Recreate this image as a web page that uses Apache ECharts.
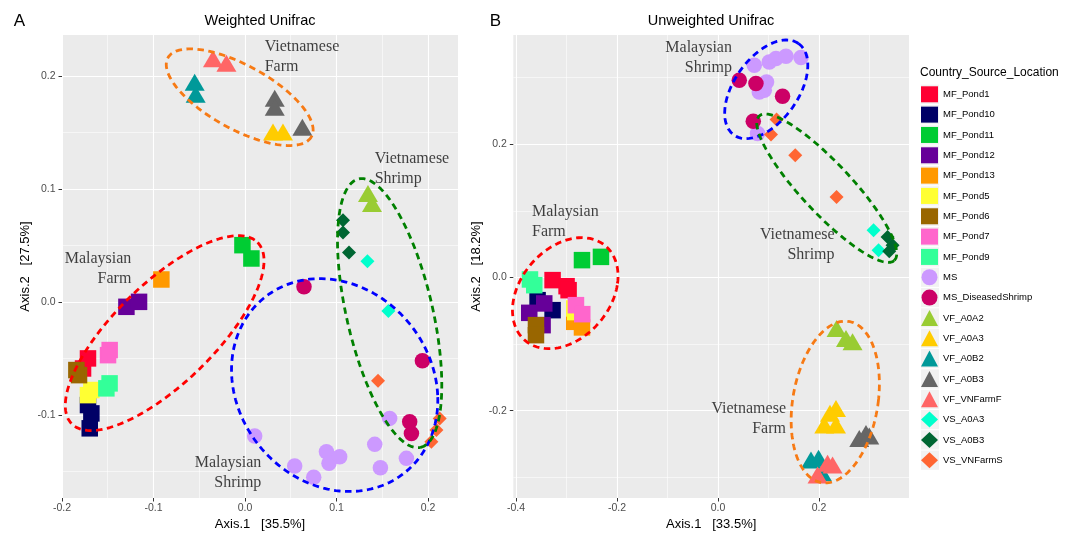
<!DOCTYPE html>
<html><head><meta charset="utf-8">
<script src="https://cdn.jsdelivr.net/npm/echarts@6/dist/echarts.min.js"></script>
<style>html,body{margin:0;padding:0;background:#fff}#c{width:1073px;height:533px}</style>
</head><body><div id="c"></div>
<script>
// ---------- groups ----------
const groups = ['MF_Pond1','MF_Pond10','MF_Pond11','MF_Pond12','MF_Pond13','MF_Pond5','MF_Pond6','MF_Pond7','MF_Pond9','MS','MS_DiseasedShrimp','VF_A0A2','VF_A0A3','VF_A0B2','VF_A0B3','VF_VNFarmF','VS_A0A3','VS_A0B3','VS_VNFarmS'];
const groupColors = ['#FF0033','#000066','#00CC33','#660099','#FF9900','#FFFF33','#996600','#FF66CC','#33FF99','#CC99FF','#CC0066','#99CC33','#FFCC00','#009999','#666666','#FF6666','#00FFCC','#006633','#FF6633'];
const groupShapes = ['rect','rect','rect','rect','rect','rect','rect','rect','rect','circle','circle','triangle','triangle','triangle','triangle','triangle','diamond','diamond','diamond'];

// ---------- Panel A: Weighted Unifrac (Axis.1, Axis.2) ----------
const wMF_Pond1  = [[-0.1716,-0.0501],[-0.177,-0.059]];
const wMF_Pond10 = [[-0.1716,-0.0914],[-0.1679,-0.0988],[-0.1697,-0.112]];
const wMF_Pond11 = [[-0.0028,0.0502],[0.007,0.0384]];
const wMF_Pond12 = [[-0.1296,-0.0044],[-0.1158,0.0]];
const wMF_Pond13 = [[-0.0914,0.0198]];
const wMF_Pond5  = [[-0.1679,-0.0781],[-0.1716,-0.0826]];
const wMF_Pond6  = [[-0.1814,-0.0649],[-0.1843,-0.0604]];
const wMF_Pond7  = [[-0.1497,-0.0472],[-0.1479,-0.0427]];
const wMF_Pond9  = [[-0.148,-0.0722],[-0.1515,-0.0766]];
const wMS        = [[0.0106,-0.1188],[0.0543,-0.1454],[0.0751,-0.1554],[0.089,-0.1327],[0.0918,-0.143],[0.1035,-0.1372],[0.1418,-0.1262],[0.148,-0.1469],[0.1764,-0.1386],[0.1581,-0.1032]];
const wMS_DiseasedShrimp = [[0.0645,0.0133],[0.1939,-0.0522],[0.18,-0.1062],[0.1819,-0.1165]];
const wVF_A0A2   = [[0.1344,0.0959],[0.1388,0.0871]];
const wVF_A0A3   = [[0.0306,0.1504],[0.0415,0.1504]];
const wVF_A0B2   = [[-0.055,0.1944],[-0.0539,0.1838]];
const wVF_A0B3   = [[0.0325,0.1803],[0.0325,0.1723],[0.0627,0.1546]];
const wVF_VNFarmF= [[-0.035,0.2153],[-0.0203,0.2112]];
const wVS_A0A3   = [[0.1338,0.036],[0.1567,-0.008]];
const wVS_A0B3   = [[0.1071,0.0723],[0.1071,0.0614],[0.1137,0.0437]];
const wVS_VNFarmS= [[0.1454,-0.0699],[0.2128,-0.1032],[0.2092,-0.1135],[0.2037,-0.1239]];

// ---------- Panel B: Unweighted Unifrac ----------
const uMF_Pond1  = [[-0.3275,-0.004],[-0.2998,-0.0131],[-0.2958,-0.0191]];
const uMF_Pond10 = [[-0.3572,-0.0341],[-0.3275,-0.0491]];
const uMF_Pond11 = [[-0.2693,0.026],[-0.2317,0.0309]];
const uMF_Pond12 = [[-0.3737,-0.0531],[-0.344,-0.039],[-0.3473,-0.0716]];
const uMF_Pond13 = [[-0.2846,-0.0666],[-0.2693,-0.075]];
const uMF_Pond5  = [[-0.2846,-0.0465],[-0.2826,-0.052]];
const uMF_Pond6  = [[-0.3604,-0.0716],[-0.3604,-0.0866]];
const uMF_Pond7  = [[-0.2812,-0.0416],[-0.2687,-0.0551]];
const uMF_Pond9  = [[-0.3723,-0.003],[-0.3638,-0.0116]];
const uMS        = [[0.0719,0.3185],[0.1016,0.3235],[0.1149,0.3286],[0.1347,0.332],[0.1644,0.3301],[0.0962,0.2935],[0.0818,0.2785],[0.0917,0.281],[0.0784,0.2161]];
const uMS_DiseasedShrimp = [[0.0422,0.296],[0.0752,0.2911],[0.1279,0.272],[0.0699,0.2345]];
const uVF_A0A2   = [[0.2349,-0.0765],[0.2535,-0.0915],[0.2665,-0.0966]];
const uVF_A0A3   = [[0.2337,-0.1966],[0.2218,-0.204],[0.2105,-0.2216],[0.2337,-0.2216]];
const uVF_A0B2   = [[0.1842,-0.2741],[0.1992,-0.2716],[0.2059,-0.2932]];
const uVF_A0B3   = [[0.2931,-0.2341],[0.2798,-0.2416],[0.2996,-0.2381]];
const uVF_VNFarmF= [[0.217,-0.2791],[0.2269,-0.2816],[0.1972,-0.2966]];
const uVS_A0A3   = [[0.3081,0.071],[0.318,0.041]];
const uVS_A0B3   = [[0.3358,0.0609],[0.3457,0.0485],[0.3392,0.0395]];
const uVS_VNFarmS= [[0.116,0.2371],[0.105,0.2146],[0.1531,0.1835],[0.2349,0.1209]];

// ---------- ellipses: [cx, cy, ux, uy, vx, vy] (data units) ----------
const ellA_VietFarm     = [-0.0058, 0.1812, 0.0785,-0.0349, -0.0168,-0.0248];
const ellA_MalayFarm    = [-0.0878,-0.0277, 0.1017, 0.0803,  0.0381,-0.0317];
const ellA_MalayShrimp  = [ 0.098, -0.0737, 0.1126,-0.0089, -0.0055, 0.0938];
const ellA_VietShrimp   = [ 0.1581,-0.0100, 0.0339,-0.1189,  0.0458, 0.0086];
const ellB_MalayShrimp  = [ 0.0956, 0.2825, 0.064,  0.0687,  0.0518,-0.0277];
const ellB_VietShrimp   = [ 0.2154, 0.134,  0.1339,-0.1085,  0.0361, 0.0256];
const ellB_MalayFarm    = [-0.3024,-0.0236, 0.103,  0.012,  -0.0178,-0.0825];
const ellB_VietFarm     = [ 0.2323,-0.1871, 0.0851, 0.0,     0.0198, 0.1215];

// ---------- annotations ----------
const annA = [
  ['Vietnamese\nFarm',   0.0215, 0.2166, 'left'],
  ['Vietnamese\nShrimp', 0.1417, 0.118,  'left'],
  ['Malaysian\nFarm',   -0.1242, 0.0296, 'right'],
  ['Malaysian\nShrimp',  0.0179,-0.151,  'right']
];
const annB = [
  ['Malaysian\nShrimp',  0.0277, 0.330,  'right'],
  ['Malaysian\nFarm',   -0.3683, 0.0837, 'left'],
  ['Vietnamese\nShrimp', 0.2309, 0.0485, 'right'],
  ['Vietnamese\nFarm',   0.1347,-0.2126, 'right']
];

// ---------- axes ticks ----------
const ticksAx = [-0.2,-0.1,0,0.1,0.2],  minorAx = [-0.15,-0.05,0.05,0.15];
const ticksAy = [-0.1,0,0.1,0.2],       minorAy = [-0.15,-0.05,0.05,0.15];
const ticksBx = [-0.4,-0.2,0,0.2],      minorBx = [-0.3,-0.1,0.1,0.3];
const ticksBy = [-0.2,0,0.2],           minorBy = [-0.3,-0.1,0.1,0.3];

const weighted = {MF_Pond1:wMF_Pond1,MF_Pond10:wMF_Pond10,MF_Pond11:wMF_Pond11,MF_Pond12:wMF_Pond12,MF_Pond13:wMF_Pond13,MF_Pond5:wMF_Pond5,MF_Pond6:wMF_Pond6,MF_Pond7:wMF_Pond7,MF_Pond9:wMF_Pond9,MS:wMS,MS_DiseasedShrimp:wMS_DiseasedShrimp,VF_A0A2:wVF_A0A2,VF_A0A3:wVF_A0A3,VF_A0B2:wVF_A0B2,VF_A0B3:wVF_A0B3,VF_VNFarmF:wVF_VNFarmF,VS_A0A3:wVS_A0A3,VS_A0B3:wVS_A0B3,VS_VNFarmS:wVS_VNFarmS};
const unweighted = {MF_Pond1:uMF_Pond1,MF_Pond10:uMF_Pond10,MF_Pond11:uMF_Pond11,MF_Pond12:uMF_Pond12,MF_Pond13:uMF_Pond13,MF_Pond5:uMF_Pond5,MF_Pond6:uMF_Pond6,MF_Pond7:uMF_Pond7,MF_Pond9:uMF_Pond9,MS:uMS,MS_DiseasedShrimp:uMS_DiseasedShrimp,VF_A0A2:uVF_A0A2,VF_A0A3:uVF_A0A3,VF_A0B2:uVF_A0B2,VF_A0B3:uVF_A0B3,VF_VNFarmF:uVF_VNFarmF,VS_A0A3:uVS_A0A3,VS_A0B3:uVS_A0B3,VS_VNFarmS:uVS_VNFarmS};

const SANS = 'Liberation Sans, Arial, Helvetica, sans-serif';
const SERIF = 'Liberation Serif, Times New Roman, serif';

function symSize(shape){
  if (shape==='rect') return 16.5;
  if (shape==='circle') return 15.5;
  if (shape==='triangle') return [20,17];
  return 14;
}
function ellipsePts(e){
  const pts=[]; const N=160;
  for(let i=0;i<=N;i++){const t=2*Math.PI*i/N;
    pts.push([e[0]+Math.cos(t)*e[2]+Math.sin(t)*e[4], e[1]+Math.cos(t)*e[3]+Math.sin(t)*e[5]]);}
  return pts;
}
const fmt = v => (Math.abs(v)<1e-9?0:v).toFixed(1);

function majorAxis(grid, min, max, ticks, isX, name, nameGap){
  return {type:'value', gridIndex:grid, min, max, position: isX?'bottom':'left',
    name, nameLocation:'middle', nameGap, nameTextStyle:{fontFamily:SANS,fontSize:13,color:'#000'},
    axisLine:{show:false, onZero:false},
    axisTick:{show:true,length:3.5,lineStyle:{color:'#333',width:1},customValues:ticks},
    axisLabel:{show:true,customValues:ticks,formatter:fmt,color:'#4D4D4D',fontFamily:SANS,fontSize:10.5,margin:isX?4.5:6.5},
    splitLine:{show:true,lineStyle:{color:'#FFFFFF',width:1.1}},
    minorSplitLine:{show:false}, z:1};
}
function minorAxis(grid, min, max, minors, isX){
  return {type:'value', gridIndex:grid, min, max, position: isX?'top':'right',
    axisLine:{show:false, onZero:false}, axisLabel:{show:false},
    axisTick:{show:false,customValues:minors},
    splitLine:{show:true,lineStyle:{color:'#FFFFFF',width:0.55}}, z:0};
}

const A = {xMin:-0.2, xMax:0.2328, yMin:-0.1737, yMax:0.2363};
const B = {xMin:-0.4053, xMax:0.3783, yMin:-0.3311, yMax:0.364};

const xAxis = [
  majorAxis(0, A.xMin, A.xMax, ticksAx, true, 'Axis.1   [35.5%]', 18),
  minorAxis(0, A.xMin, A.xMax, minorAx, true),
  majorAxis(1, B.xMin, B.xMax, ticksBx, true, 'Axis.1   [33.5%]', 18),
  minorAxis(1, B.xMin, B.xMax, minorBx, true)
];
const yAxis = [
  majorAxis(0, A.yMin, A.yMax, ticksAy, false, 'Axis.2   [27.5%]', 30),
  minorAxis(0, A.yMin, A.yMax, minorAy, false),
  majorAxis(1, B.yMin, B.yMax, ticksBy, false, 'Axis.2   [18.2%]', 30),
  minorAxis(1, B.yMin, B.yMax, minorBy, false)
];

const series = [];
[[weighted,0],[unweighted,2]].forEach(([src,ax])=>{
  groups.forEach((g,i)=>{
    series.push({type:'scatter', name:g, xAxisIndex:ax, yAxisIndex:ax, data:src[g],
      symbol:groupShapes[i], symbolSize:symSize(groupShapes[i]),
      itemStyle:{color:groupColors[i], opacity:1}, emphasis:{disabled:true}, silent:true, z:3});
  });
});
const ellColors = {VietFarm:'#F77A14', MalayFarm:'#FF0000', MalayShrimp:'#0000FF', VietShrimp:'#008000'};
[[ellA_VietFarm,'VietFarm',0],[ellA_MalayFarm,'MalayFarm',0],[ellA_MalayShrimp,'MalayShrimp',0],[ellA_VietShrimp,'VietShrimp',0],
 [ellB_MalayShrimp,'MalayShrimp',2],[ellB_VietShrimp,'VietShrimp',2],[ellB_MalayFarm,'MalayFarm',2],[ellB_VietFarm,'VietFarm',2]]
.forEach(([e,k,ax])=>{
  series.push({type:'line', xAxisIndex:ax, yAxisIndex:ax, data:ellipsePts(e), showSymbol:false, symbol:'none',
    smooth:false, silent:true, z:4, lineStyle:{color:ellColors[k], width:2.8, type:[6.5,4.5], cap:'butt'},
    emphasis:{disabled:true}});
});
[[annA,0],[annB,2]].forEach(([ann,ax])=>{
  ann.forEach(a=>{
    series.push({type:'scatter', xAxisIndex:ax, yAxisIndex:ax, silent:true, z:6,
      data:[{value:[a[1],a[2]], name:a[0]}], symbolSize:1, itemStyle:{color:'rgba(0,0,0,0)'},
      label:{show:true, position:'inside', formatter:p=>p.name, align:a[3], verticalAlign:'middle',
        fontFamily:SERIF, fontSize:16, lineHeight:20, color:'#111'}});
  });
});

const legendTop = 86.3, rowH = 20.33;
const keyRects = groups.map((g,i)=>({type:'rect', z:-1, shape:{x:921, y:legendTop+8-9.6+i*rowH, width:18, height:19.2}, style:{fill:'#F2F2F2'}}));

const option = {
  animation:false,
  backgroundColor:'#FFFFFF',
  grid:[
    {left:62, top:35, width:396, height:463, show:true, backgroundColor:'#EBEBEB', borderWidth:0, containLabel:false, outerBoundsMode:'none'},
    {left:513.3, top:35, width:395.7, height:463, show:true, backgroundColor:'#EBEBEB', borderWidth:0, containLabel:false, outerBoundsMode:'none'}
  ],
  xAxis, yAxis, series,
  legend:{orient:'vertical', left:921, top:legendTop, padding:0, itemWidth:17, itemHeight:16, itemGap:rowH-16,
    selectedMode:false, data:groups.map((g,i)=>({name:g, icon:groupShapes[i]})),
    textStyle:{fontFamily:SANS, fontSize:9.5, color:'#000'}},
  graphic:[
    ...keyRects,
    {type:'text', x:19.5, y:21, style:{text:'A', font:'17px '+SANS, fill:'#000', align:'center', verticalAlign:'middle'}},
    {type:'text', x:260, y:20.5, style:{text:'Weighted Unifrac', font:'14.5px '+SANS, fill:'#000', align:'center', verticalAlign:'middle'}},
    {type:'text', x:495.3, y:21, style:{text:'B', font:'17px '+SANS, fill:'#000', align:'center', verticalAlign:'middle'}},
    {type:'text', x:711, y:20.5, style:{text:'Unweighted Unifrac', font:'14.5px '+SANS, fill:'#000', align:'center', verticalAlign:'middle'}},
    {type:'text', x:920, y:72.5, style:{text:'Country_Source_Location', font:'12px '+SANS, fill:'#000', align:'left', verticalAlign:'middle'}}
  ]
};
const chart = echarts.init(document.getElementById('c'));
chart.setOption(option);
</script></body></html>
